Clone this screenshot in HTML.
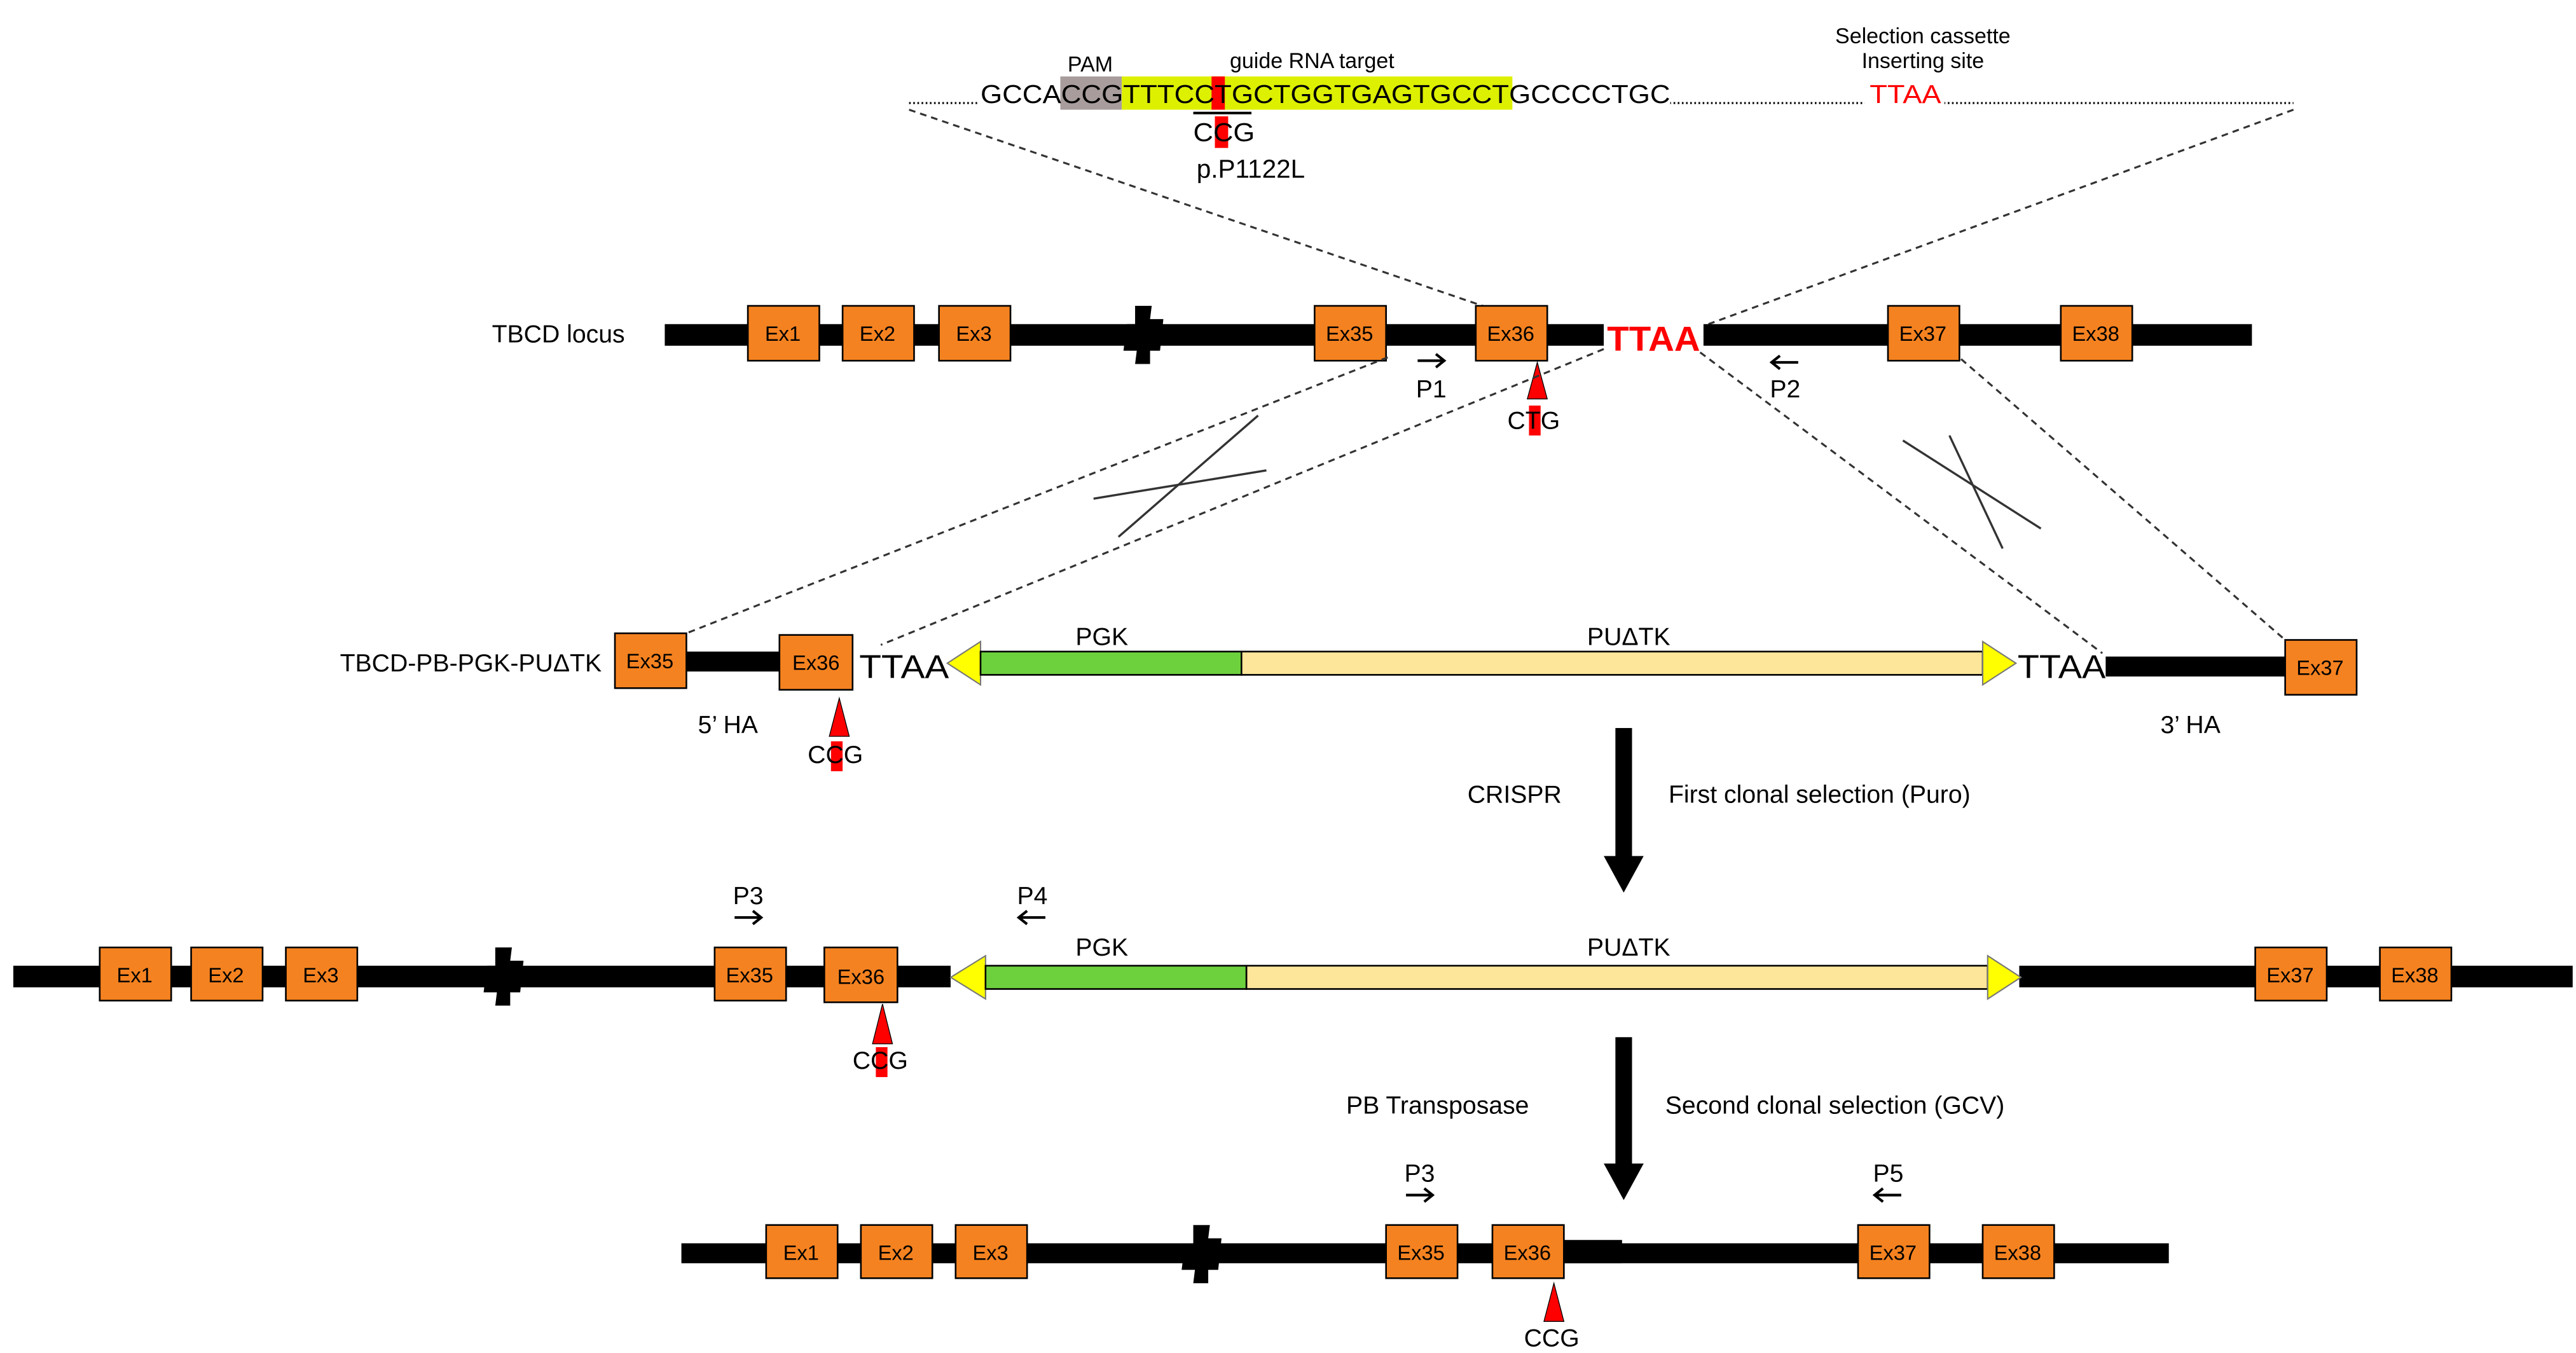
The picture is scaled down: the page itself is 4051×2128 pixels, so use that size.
<!DOCTYPE html>
<html><head><meta charset="utf-8"><style>
html,body{margin:0;padding:0;background:#fff}
svg{display:block}
text{font-family:"Liberation Sans",Arial,sans-serif;fill:#000}
.ex{fill:#f58220;stroke:#000;stroke-width:1}
.el{font-size:12.5px;text-anchor:middle}
.lb{font-size:15px}
.d{stroke:#333;stroke-width:1.2;stroke-dasharray:4,3;fill:none}
.pa{stroke:#000;stroke-width:1.6;fill:none}
</style></head><body>
<svg width="4051" height="2128" viewBox="0 0 1550 814" preserveAspectRatio="none" xmlns="http://www.w3.org/2000/svg">
<defs>
<g id="brk"><path d="M-7 -17 L3 -17 L2 -9 L10 -9 L8 10 L2 10 L2 18 L-7 18 L-6 10 L-14 10 L-12 -6 L-7 -6 Z" fill="#000"/></g>
<g id="ar"><line x1="-8" y1="0" x2="8" y2="0" class="pa"/><path d="M3 -4 L8 0 L3 4" class="pa"/></g>
<g id="al"><line x1="-8" y1="0" x2="8" y2="0" class="pa"/><path d="M-3 -4 L-8 0 L-3 4" class="pa"/></g>
</defs>

<!-- top sequence -->
<line x1="547" y1="62" x2="1380" y2="62" stroke="#000" stroke-width="1.2" stroke-dasharray="1,1.5"/>
<rect x="588" y="46" width="417" height="20" fill="#fff"/>
<rect x="1122" y="46" width="48" height="20" fill="#fff"/>
<rect x="638" y="46" width="37" height="20" fill="#a89c9c"/>
<rect x="675" y="46" width="235" height="20" fill="#ddf000"/>
<rect x="729" y="46" width="8" height="20" fill="#f00"/>
<text x="590" y="62" font-size="15.5" textLength="415" lengthAdjust="spacingAndGlyphs">GCCACCGTTTCCTGCTGGTGAGTGCCTGCCCCTGC</text>
<text x="1125" y="62" font-size="15.5" style="fill:#f00" textLength="43" lengthAdjust="spacingAndGlyphs">TTAA</text>
<text x="656" y="43" font-size="13" text-anchor="middle">PAM</text>
<text x="740" y="41" font-size="13">guide RNA target</text>
<text x="1157" y="26" font-size="13" text-anchor="middle">Selection cassette</text>
<text x="1157" y="41" font-size="13" text-anchor="middle">Inserting site</text>
<line x1="718" y1="68" x2="753" y2="68" stroke="#000" stroke-width="1.5"/>
<rect x="731" y="70" width="8" height="19" fill="#f00"/>
<text x="718" y="85" font-size="15.5" textLength="37" lengthAdjust="spacingAndGlyphs">CCG</text>
<text x="720" y="107" font-size="15.5">p.P1122L</text>

<line class="d" x1="547" y1="66" x2="895" y2="185"/>
<line class="d" x1="1380" y1="66" x2="1028" y2="195"/>

<!-- row 1 -->
<text x="296" y="206" class="lb">TBCD locus</text>
<rect x="400" y="195" width="565" height="13" fill="#000"/>
<rect x="1025" y="195" width="330" height="13" fill="#000"/>
<use href="#brk" x="690" y="201"/>
<rect class="ex" x="450" y="184" width="43" height="33"/><text class="el" x="471" y="205">Ex1</text>
<rect class="ex" x="507" y="184" width="43" height="33"/><text class="el" x="528" y="205">Ex2</text>
<rect class="ex" x="565" y="184" width="43" height="33"/><text class="el" x="586" y="205">Ex3</text>
<rect class="ex" x="791" y="184" width="43" height="33"/><text class="el" x="812" y="205">Ex35</text>
<rect class="ex" x="888" y="184" width="43" height="33"/><text class="el" x="909" y="205">Ex36</text>
<rect class="ex" x="1136" y="184" width="43" height="33"/><text class="el" x="1157" y="205">Ex37</text>
<rect class="ex" x="1240" y="184" width="43" height="33"/><text class="el" x="1261" y="205">Ex38</text>
<text x="967" y="211" font-size="21" font-weight="bold" style="fill:#f00" textLength="56" lengthAdjust="spacingAndGlyphs">TTAA</text>
<use href="#ar" x="861" y="217"/><text x="852" y="239" class="lb">P1</text>
<use href="#al" x="1074" y="218"/><text x="1065" y="239" class="lb">P2</text>
<polygon points="925,218 919,240 931,240" fill="#f00" stroke="#000" stroke-width="0.5"/>
<rect x="920" y="244" width="7" height="18" fill="#f00"/>
<text x="907" y="258" class="lb">CTG</text>

<line class="d" x1="835" y1="215" x2="413" y2="381"/>
<line class="d" x1="965" y1="210" x2="530" y2="388"/>
<line class="d" x1="1023" y1="212" x2="1265" y2="393"/>
<line class="d" x1="1180" y1="216" x2="1375" y2="385"/>
<line x1="658" y1="300" x2="762" y2="283" stroke="#333" stroke-width="1.3"/>
<line x1="673" y1="323" x2="757" y2="250" stroke="#333" stroke-width="1.3"/>
<line x1="1145" y1="265" x2="1228" y2="318" stroke="#333" stroke-width="1.3"/>
<line x1="1173" y1="262" x2="1205" y2="330" stroke="#333" stroke-width="1.3"/>

<!-- row 2 -->
<text x="362" y="404" class="lb" text-anchor="end">TBCD-PB-PGK-PUΔTK</text>
<rect x="413" y="392" width="57" height="12" fill="#000"/>
<rect class="ex" x="370" y="381" width="43" height="33"/><text class="el" x="391" y="402">Ex35</text>
<rect class="ex" x="469" y="382" width="44" height="33"/><text class="el" x="491" y="403">Ex36</text>
<text x="517" y="408" font-size="20" textLength="54" lengthAdjust="spacingAndGlyphs">TTAA</text>
<polygon points="570,399 590,386 590,412" fill="#ffff00" stroke="#777" stroke-width="0.8"/>
<rect x="590" y="392" width="157" height="14" fill="#6dd13d" stroke="#000" stroke-width="1"/>
<rect x="747" y="392" width="446" height="14" fill="#fde69a" stroke="#000" stroke-width="1"/>
<polygon points="1213,399 1193,386 1193,412" fill="#ffff00" stroke="#777" stroke-width="0.8"/>
<text x="1214" y="408" font-size="20" textLength="53" lengthAdjust="spacingAndGlyphs">TTAA</text>
<rect x="1267" y="395" width="110" height="12" fill="#000"/>
<rect class="ex" x="1375" y="385" width="43" height="33"/><text class="el" x="1396" y="406">Ex37</text>
<text x="663" y="388" class="lb" text-anchor="middle">PGK</text>
<text x="980" y="388" class="lb" text-anchor="middle">PUΔTK</text>
<text x="438" y="441" class="lb" text-anchor="middle">5’ HA</text>
<text x="1318" y="441" class="lb" text-anchor="middle">3’ HA</text>
<polygon points="505,420 499,443 511,443" fill="#f00" stroke="#000" stroke-width="0.5"/>
<rect x="500" y="446" width="7" height="18" fill="#f00"/>
<text x="486" y="459" class="lb">CCG</text>

<rect x="972" y="438" width="10" height="80" fill="#000"/>
<polygon points="965,515 989,515 977,537" fill="#000"/>
<text x="883" y="483" class="lb">CRISPR</text>
<text x="1004" y="483" class="lb">First clonal selection (Puro)</text>

<!-- row 3 -->
<rect x="8" y="581" width="564" height="13" fill="#000"/>
<rect x="1215" y="581" width="333" height="13" fill="#000"/>
<use href="#brk" x="305" y="587"/>
<rect class="ex" x="60" y="570" width="43" height="32"/><text class="el" x="81" y="591">Ex1</text>
<rect class="ex" x="115" y="570" width="43" height="32"/><text class="el" x="136" y="591">Ex2</text>
<rect class="ex" x="172" y="570" width="43" height="32"/><text class="el" x="193" y="591">Ex3</text>
<rect class="ex" x="430" y="570" width="43" height="32"/><text class="el" x="451" y="591">Ex35</text>
<rect class="ex" x="496" y="570" width="44" height="33"/><text class="el" x="518" y="592">Ex36</text>
<polygon points="572,588 593,575 593,601" fill="#ffff00" stroke="#777" stroke-width="0.8"/>
<rect x="593" y="581" width="157" height="14" fill="#6dd13d" stroke="#000" stroke-width="1"/>
<rect x="750" y="581" width="446" height="14" fill="#fde69a" stroke="#000" stroke-width="1"/>
<polygon points="1216,588 1196,575 1196,601" fill="#ffff00" stroke="#777" stroke-width="0.8"/>
<rect class="ex" x="1357" y="570" width="43" height="32"/><text class="el" x="1378" y="591">Ex37</text>
<rect class="ex" x="1432" y="570" width="43" height="32"/><text class="el" x="1453" y="591">Ex38</text>
<text x="663" y="575" class="lb" text-anchor="middle">PGK</text>
<text x="980" y="575" class="lb" text-anchor="middle">PUΔTK</text>
<text x="441" y="544" class="lb">P3</text><use href="#ar" x="450" y="552"/>
<text x="612" y="544" class="lb">P4</text><use href="#al" x="621" y="552"/>
<polygon points="531,604 525,628 537,628" fill="#f00" stroke="#000" stroke-width="0.5"/>
<rect x="527" y="630" width="7" height="18" fill="#f00"/>
<text x="513" y="643" class="lb">CCG</text>

<rect x="972" y="624" width="10" height="80" fill="#000"/>
<polygon points="965,700 989,700 977,722" fill="#000"/>
<text x="810" y="670" class="lb">PB Transposase</text>
<text x="1002" y="670" class="lb">Second clonal selection (GCV)</text>

<!-- row 4 -->
<rect x="410" y="748" width="895" height="12" fill="#000"/>
<rect x="941" y="746" width="35" height="14" fill="#000"/>
<use href="#brk" x="725" y="754"/>
<rect class="ex" x="461" y="737" width="43" height="32"/><text class="el" x="482" y="758">Ex1</text>
<rect class="ex" x="518" y="737" width="43" height="32"/><text class="el" x="539" y="758">Ex2</text>
<rect class="ex" x="575" y="737" width="43" height="32"/><text class="el" x="596" y="758">Ex3</text>
<rect class="ex" x="834" y="737" width="43" height="32"/><text class="el" x="855" y="758">Ex35</text>
<rect class="ex" x="898" y="737" width="43" height="32"/><text class="el" x="919" y="758">Ex36</text>
<rect class="ex" x="1118" y="737" width="43" height="32"/><text class="el" x="1139" y="758">Ex37</text>
<rect class="ex" x="1193" y="737" width="43" height="32"/><text class="el" x="1214" y="758">Ex38</text>
<text x="845" y="711" class="lb">P3</text><use href="#ar" x="854" y="719"/>
<text x="1127" y="711" class="lb">P5</text><use href="#al" x="1136" y="719"/>
<polygon points="935,772 929,795 941,795" fill="#f00" stroke="#000" stroke-width="0.5"/>
<text x="917" y="810" class="lb">CCG</text>
</svg>
</body></html>
